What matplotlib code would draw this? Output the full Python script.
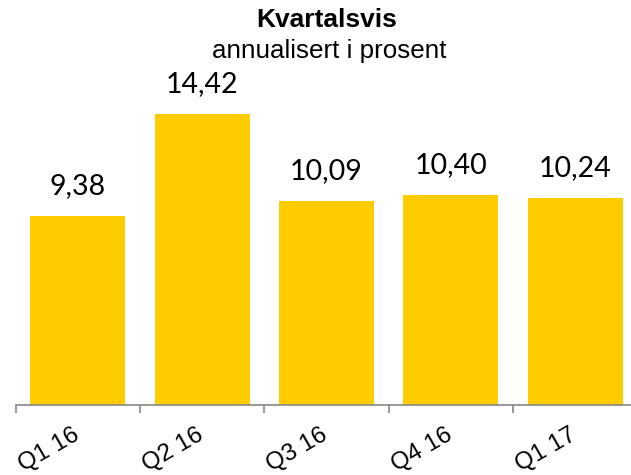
import matplotlib.pyplot as plt
import matplotlib.transforms as mtransforms
import numpy as np

# data
quarters = ["Q1 16", "Q2 16", "Q3 16", "Q4 16", "Q1 17"]
values = [9.38, 14.42, 10.09, 10.40, 10.24]

BAR_COLOR = "#FFCC00"
AXIS_COLOR = "#888888"

fig = plt.figure(figsize=(6.31, 4.75), dpi=100)
ax = fig.add_axes([15.5 / 631, 70 / 475, 622 / 631, 0.68])

x = np.arange(len(quarters))
bars = ax.bar(x, values, width=0.765, color=BAR_COLOR)

# verdietiketter med komma som desimaltegn
for xi, v in zip(x, values):
    ax.annotate(f"{v:.2f}".replace(".", ","), (xi, v), xytext=(0, 21.5),
                textcoords="offset points", ha="center", va="center",
                fontsize=20.5, family="Lato")

ax.set_xlim(-0.5, len(quarters) - 0.5)
ax.set_ylim(0, 16)

for side in ["left", "right", "top"]:
    ax.spines[side].set_visible(False)
ax.spines["bottom"].set_color(AXIS_COLOR)
ax.spines["bottom"].set_linewidth(1.2)
ax.set_yticks([])

ax.set_xticks(x)
ax.set_xticklabels(quarters, rotation=30, ha="right", va="top",
                   fontsize=17.5, family="Liberation Sans")
ax.tick_params(axis="x", which="major", length=0, pad=14)
shift = mtransforms.ScaledTranslation(5 / 100, 0, fig.dpi_scale_trans)
for lbl in ax.get_xticklabels():
    lbl.set_transform(lbl.get_transform() + shift)
ax.set_xticks(np.arange(-0.5, len(quarters), 1), minor=True)
ax.tick_params(axis="x", which="minor", length=6, width=1.2, color=AXIS_COLOR, direction="out")

fig.text(0.518, 0.958, "Kvartalsvis", ha="center", va="center", fontsize=19,
         fontweight="bold", family="Liberation Sans")
fig.text(0.521, 0.893, "annualisert i prosent", ha="center", va="center", fontsize=18.7,
         family="Liberation Sans")

fig.savefig("out.png", dpi=100)
